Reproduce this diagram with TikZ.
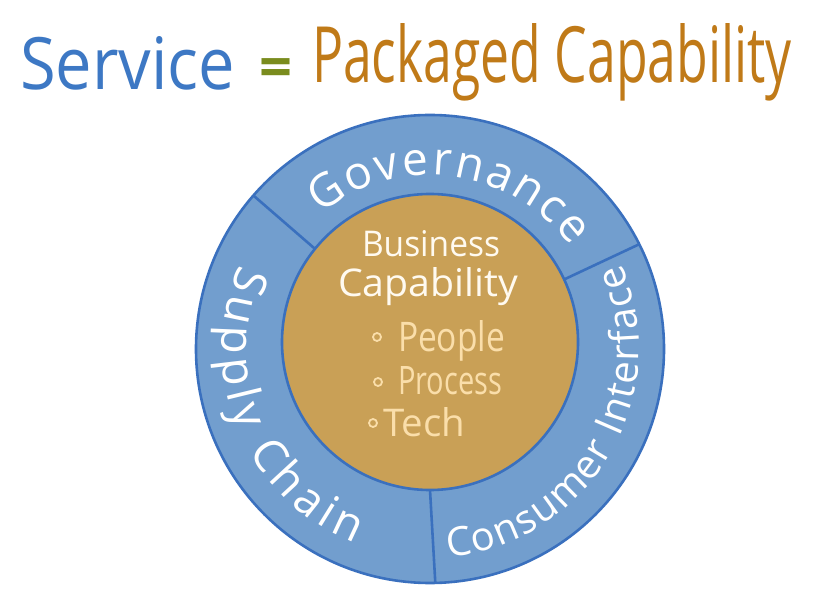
\documentclass[tikz,border=0pt]{standalone}
\usepackage{fontspec}
\setmainfont{Open Sans}
\usetikzlibrary{calc,decorations.text}
\definecolor{ringfill}{HTML}{729ECE}
\definecolor{ringline}{HTML}{3A70BE}
\definecolor{core}{HTML}{C9A056}
\definecolor{titleblue}{HTML}{3D78C4}
\definecolor{eqgreen}{HTML}{7A8C1E}
\definecolor{ochre}{HTML}{C07A18}
\definecolor{cream}{HTML}{FADEAA}
\definecolor{corewhite}{HTML}{FFFAF0}
\newcommand{\fitbox}[3]{\resizebox{#1pt}{#2pt}{#3}}
\newcommand{\ringfontA}{\fontsize{46}{46}\selectfont}
\newcommand{\ringfontB}{\fontsize{40}{40}\selectfont}
\tikzset{
  border/.style={draw=ringline, line width=2.6pt},
  divider/.style={draw=ringline, line width=2.6pt},
  txt/.style={anchor=base west, inner sep=0pt, outer sep=0pt},
  bulletmark/.style={draw=cream, line width=1.8pt},
  ringtext/.style={decorate, decoration={text along path, text color=white,
      text align={fit to path}, text={#1}}}
}
\begin{document}
\begin{tikzpicture}[x=1pt,y=1pt]
\useasboundingbox (0,0) rectangle (819,600);
\fill[white] (0,0) rectangle (819,600);

% title
\node[txt, text=titleblue] (service) at (20,510) {\fitbox{215}{53}{Service}};
\node[inner sep=0pt, text=eqgreen] (eq) at (276,527) {\resizebox{33pt}{!}{\bfseries =}};
\node[txt, text=ochre] (packaged) at (312,517) {\fitbox{480}{59}{Packaged Capability}};

% circles
\coordinate (O) at (430,251);
\coordinate (I) at (430,258);
\path[border, fill=ringfill] (O) circle[radius=234];
\path[border, fill=core] (I) circle[radius=148];

% dividers
\coordinate (d1o) at ($(O)+(139:234)$);
\coordinate (d1i) at ($(I)+(141:148)$);
\coordinate (d2o) at ($(O)+(26.6:234)$);
\coordinate (d2i) at ($(I)+(25:148)$);
\coordinate (d3o) at ($(O)+(271.3:234)$);
\coordinate (d3i) at ($(I)+(270:148)$);
\path[divider] (d1o) -- (d1i);
\path[divider] (d2o) -- (d2i);
\path[divider] (d3o) -- (d3i);

% ring texts
\path[ringtext={|\ringfontA|Governance}] ($(O)+(129:174)$) arc[start angle=129, end angle=36, radius=174];
\path[ringtext={|\ringfontA|Supply Chain}] ($(O)+(156:208)$) arc[start angle=156, end angle=249, radius=208];
\path[ringtext={|\ringfontB|Consumer Interface}] ($(O)+(275:209)$) arc[start angle=275, end angle=384, radius=209];

% core texts
\node[txt, text=corewhite] (business) at (362,343) {\fitbox{138}{26}{Business}};
\node[txt, text=corewhite] (capability) at (338,303) {\fitbox{180}{29}{Capability}};
\node[txt, text=cream] (people) at (398,248) {\fitbox{107}{31}{People}};
\node[txt, text=cream] (process) at (398,205) {\fitbox{104}{28}{Process}};
\node[txt, text=cream] (tech) at (383,163) {\fitbox{82}{29}{Tech}};
\path[bulletmark] (377,263) circle[radius=4];
\path[bulletmark] (378,218) circle[radius=4];
\path[bulletmark] (373,177) circle[radius=4];
\end{tikzpicture}
\end{document}
